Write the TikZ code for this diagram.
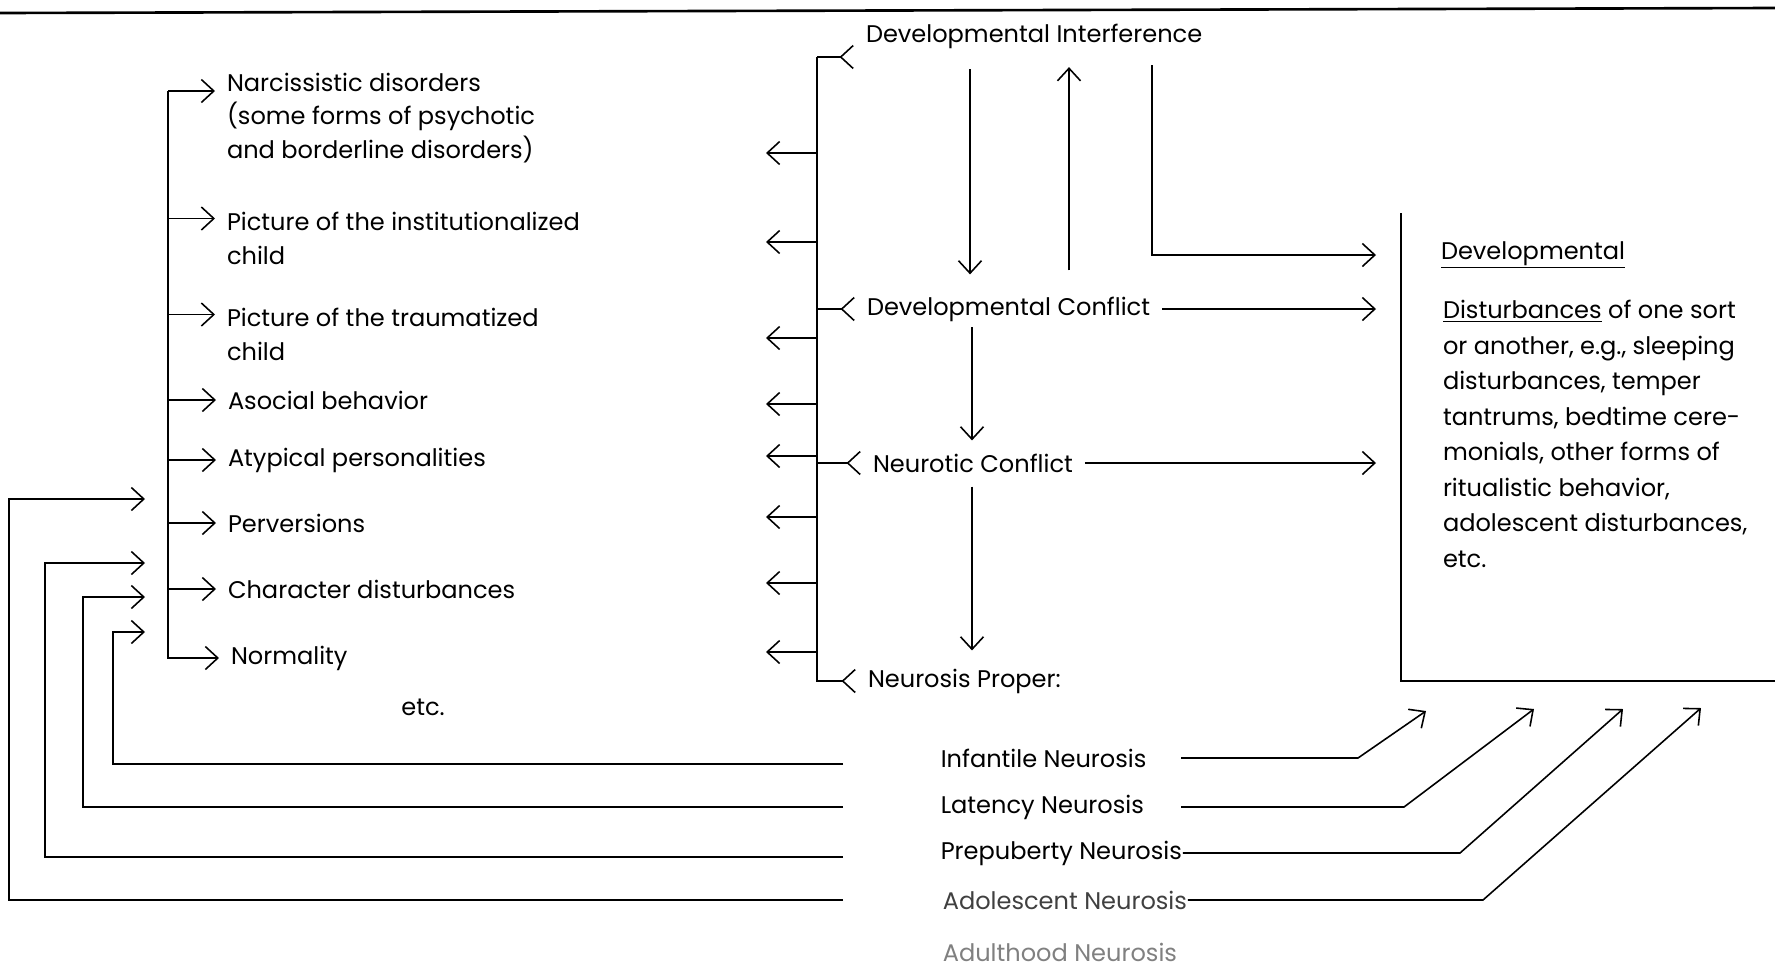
\documentclass[tikz,border=0pt]{standalone}
\usepackage{fontspec}
\setmainfont{Poppins}
\usepackage{tikz}
\usetikzlibrary{positioning,arrows.meta}

\tikzset{
    lbl/.style={anchor=west, align=left, inner sep=0pt, outer xsep=0.24cm,
        font=\fontsize{13.7}{19.3}\selectfont},
    nlbl/.style={anchor=west, inner sep=0pt, font=\fontsize{13.7}{19.3}\selectfont},
    barb/.style={-{Straight Barb[length=2.5mm, width=4.6mm]}},
    fork/.style={-{Straight Barb[length=2.5mm, width=4.6mm, reversed]}},
}

\begin{document}
\begin{tikzpicture}[line width=0.9pt]
    \useasboundingbox (0,0) rectangle (35.5,-19.36);

    % rule across the top of the page
    \draw[line width=1.5pt] (0,-0.26) -- (35.5,-0.16);

    % Outcomes (left column)
    \node[lbl] (narc) at (4.30,-2.36) {Narcissistic disorders\\(some forms of psychotic\\and borderline disorders)};
    \node[lbl] (inst) at (4.30,-4.77) {Picture of the institutionalized\\child};
    \node[lbl] (trauma) at (4.30,-6.69) {Picture of the traumatized\\child};
    \node[lbl] (asoc) at (4.32,-8.00) {Asocial behavior};
    \node[lbl] (atyp) at (4.32,-9.20) {Atypical personalities};
    \node[lbl] (perv) at (4.32,-10.46) {Perversions};
    \node[lbl] (chard) at (4.32,-11.78) {Character disturbances};
    \node[lbl] (normal) at (4.38,-13.16) {Normality};
    \node[nlbl, anchor=center] (etcl) at (8.46,-14.14) {etc.};

    % left fan
    \coordinate (lfan) at (3.36,-1.82);
    \draw[barb] (lfan) -- (lfan -| narc.west);
    \draw[barb] ([yshift=0.4cm]inst.west -| lfan) -- ([yshift=0.4cm]inst.west);
    \draw[barb] ([yshift=0.4cm]trauma.west -| lfan) -- ([yshift=0.4cm]trauma.west);
    \draw[barb] (asoc.west -| lfan) -- (asoc.west);
    \draw[barb] (atyp.west -| lfan) -- (atyp.west);
    \draw[barb] (perv.west -| lfan) -- (perv.west);
    \draw[barb] (chard.west -| lfan) -- (chard.west);
    \draw[barb] (lfan) |- (normal.west);

    % Developmental lines (centre column)
    \node[lbl] (devint) at (17.08,-0.72) {Developmental Interference};
    \node[lbl] (devconf) at (17.10,-6.18) {Developmental Conflict};
    \node[lbl] (neurconf) at (17.22,-9.26) {Neurotic Conflict};
    \node[lbl] (neurprop) at (17.12,-13.62) {Neurosis Proper:};

    \coordinate (cfan) at (16.34,-1.14);
    \draw[fork] (cfan) -- (cfan -| devint.west);
    \draw[fork] (devconf.west -| cfan) -- (devconf.west);
    \draw[fork] (neurconf.west -| cfan) -- (neurconf.west);
    \draw[fork] (cfan) |- (neurprop.west);

    % arrows out of the centre spine
    \coordinate (o1) at (15.32,-3.06);
    \coordinate (o2) at (15.32,-4.84);
    \coordinate (o3) at (15.32,-6.76);
    \coordinate (o4) at (15.32,-8.08);
    \coordinate (o5) at (15.32,-9.12);
    \coordinate (o6) at (15.32,-10.34);
    \coordinate (o7) at (15.32,-11.66);
    \coordinate (o8) at (15.32,-13.04);
    \draw[barb] (o1 -| cfan) -- (o1);
    \draw[barb] (o2 -| cfan) -- (o2);
    \draw[barb] (o3 -| cfan) -- (o3);
    \draw[barb] (o4 -| cfan) -- (o4);
    \draw[barb] (o5 -| cfan) -- (o5);
    \draw[barb] (o6 -| cfan) -- (o6);
    \draw[barb] (o7 -| cfan) -- (o7);
    \draw[barb] (o8 -| cfan) -- (o8);

    % up and down between the stages
    \coordinate (xa) at (19.40,0);
    \coordinate (xb) at (21.38,0);
    \coordinate (xc) at (23.04,0);
    \coordinate (xd) at (19.44,0);
    \draw[barb, shorten <=0.4cm, shorten >=0.43cm] (devint.south -| xa) -- (devconf.north -| xa);
    \draw[barb, shorten <=0.51cm, shorten >=0.36cm] (devconf.north -| xb) -- (devint.south -| xb);
    \draw[barb, shorten <=0.1cm, shorten >=0.25cm] (devconf.south -| xd) -- (neurconf.north -| xd);
    \draw[barb, shorten <=0.27cm, shorten >=0.35cm] (neurconf.south -| xd) -- (neurprop.north -| xd);

    % into the disturbances box
    \coordinate (dtip) at (27.52,-5.10);
    \draw[barb, shorten <=0.32cm] (devint.south -| xc) |- (dtip);
    \draw[barb] (devconf.east) -- (devconf.east -| dtip);
    \draw[barb] (neurconf.east) -- (neurconf.east -| dtip);

    % Developmental disturbances (open box)
    \coordinate (boxtop) at (28.02,-4.26);
    \coordinate (boxcorner) at (28.02,-13.62);
    \coordinate (boxend) at (35.5,-13.62);
    \draw (boxtop) -- (boxcorner) -- (boxend);
    \node[lbl] (dhead) at (28.58,-5.10) {\underline{Developmental}};
    \node[lbl, font=\fontsize{13.7}{20.2}\selectfont] (dtext) at (28.62,-8.68) {\underline{Disturbances} of one sort\\or another, e.g., sleeping\\disturbances, temper\\tantrums, bedtime cere-\\monials, other forms of\\ritualistic behavior,\\adolescent disturbances,\\etc.};

    % Neurosis proper, by age
    \node[nlbl] (infant) at (18.80,-15.16) {Infantile Neurosis};
    \node[nlbl] (laten) at (18.80,-16.14) {Latency Neurosis};
    \node[nlbl] (prepub) at (18.80,-17.06) {Prepuberty Neurosis};
    \node[nlbl, text=black!75] (adoles) at (18.84,-18.00) {Adolescent Neurosis};
    \node[nlbl, text=black!50] (adult) at (18.84,-19.04) {Adulthood Neurosis};

    % back to the left column
    \coordinate (lstart) at (16.86,0);
    \coordinate (fI) at (2.90,-12.64);
    \coordinate (fL) at (2.90,-11.94);
    \coordinate (fP) at (2.90,-11.26);
    \coordinate (fA) at (2.90,-9.98);
    \draw[barb] ([yshift=-0.12cm]lstart |- infant.west) -| ([xshift=-0.64cm]fI) -- (fI);
    \draw[barb] (lstart |- laten.west) -| ([xshift=-1.24cm]fL) -- (fL);
    \draw[barb] ([yshift=-0.08cm]lstart |- prepub.west) -| ([xshift=-2.00cm]fP) -- (fP);
    \draw[barb] (lstart |- adoles.west) -| ([xshift=-2.72cm]fA) -- (fA);

    % up into the box
    \coordinate (rstart) at (23.62,0);
    \coordinate (tI) at (28.52,-14.22);
    \coordinate (tL) at (30.68,-14.18);
    \coordinate (tP) at (32.46,-14.18);
    \coordinate (tA) at (34.02,-14.16);
    \draw[barb] (rstart |- infant.east) -- ([xshift=-1.36cm]tI |- infant.east) -- (tI);
    \draw[barb] (rstart |- laten.east) -- ([xshift=-2.60cm]tL |- laten.east) -- (tL);
    \draw[barb] (prepub.east) -- ([xshift=-3.26cm]tP |- prepub.east) -- (tP);
    \draw[barb] (adoles.east) -- ([xshift=-4.36cm]tA |- adoles.east) -- (tA);
\end{tikzpicture}
\end{document}
